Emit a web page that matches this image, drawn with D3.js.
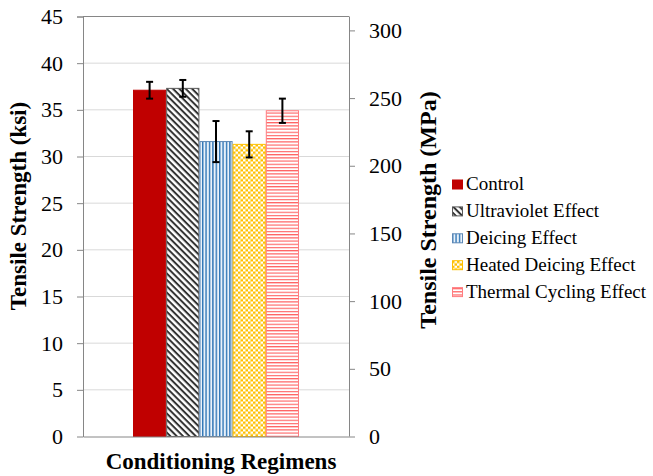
<!DOCTYPE html>
<meta charset="utf-8">
<script src="https://d3js.org/d3.v7.min.js"></script>
<style>
  body { margin: 0; background: #fff; }
</style>
<div id="chart"></div>
<script>
  // data
  var series = ["Control", "Ultraviolet Effect", "Deicing Effect", "Heated Deicing Effect", "Thermal Cycling Effect"];
  var strength = [37.1, 37.3, 31.6, 31.3, 34.9];      // ksi
  var errs = [0.9, 0.9, 2.2, 1.4, 1.3];               // ksi
  var ksiTicks = [0, 5, 10, 15, 20, 25, 30, 35, 40, 45];
  var mpaTicks = [0, 50, 100, 150, 200, 250, 300];
  var KSI_TO_MPA = 6.89476;

  var FONT = "Liberation Serif";

  var margin = {top: 16.5, right: 304, bottom: 39.5, left: 83},
      width = 653 - margin.left - margin.right,
      height = 476 - margin.top - margin.bottom;

  var svg = d3.select("#chart").append("svg")
      .attr("width", 653).attr("height", 476);

  // fill patterns
  var defs = svg.append("defs");
  var p;
  p = defs.append("pattern").attr("id", "pat1").attr("patternUnits", "userSpaceOnUse")
      .attr("width", 4.5).attr("height", 4.5).attr("patternTransform", "rotate(45)");
  p.append("rect").attr("width", 4.5).attr("height", 4.5).attr("fill", "#fff");
  p.append("rect").attr("width", 4.5).attr("height", 2).attr("fill", "#333");

  p = defs.append("pattern").attr("id", "pat2").attr("patternUnits", "userSpaceOnUse")
      .attr("width", 3.4).attr("height", 4);
  p.append("rect").attr("width", 3.4).attr("height", 4).attr("fill", "#eaf2fa");
  p.append("rect").attr("width", 1.4).attr("height", 4).attr("fill", "#2e75b6");

  p = defs.append("pattern").attr("id", "pat3").attr("patternUnits", "userSpaceOnUse")
      .attr("width", 5).attr("height", 5);
  p.append("rect").attr("width", 5).attr("height", 5).attr("fill", "#fff");
  p.append("rect").attr("width", 2.5).attr("height", 2.5).attr("fill", "#ffc000");
  p.append("rect").attr("x", 2.5).attr("y", 2.5).attr("width", 2.5).attr("height", 2.5).attr("fill", "#ffc000");

  p = defs.append("pattern").attr("id", "pat4").attr("patternUnits", "userSpaceOnUse")
      .attr("width", 4).attr("height", 3.2);
  p.append("rect").attr("width", 4).attr("height", 3.2).attr("fill", "#fff");
  p.append("rect").attr("width", 4).attr("height", 1.2).attr("fill", "#ff6666");

  var fills = ["#c00000", "url(#pat1)", "url(#pat2)", "url(#pat3)", "url(#pat4)"];
  var strokes = ["#c00000", "#595959", "#5b87b5", "#ffc000", "#ff7c80"];

  var g = svg.append("g")
      .attr("transform", "translate(" + margin.left + "," + margin.top + ")");

  var y = d3.scaleLinear().domain([0, 45]).range([height, 0]);
  var y2 = d3.scaleLinear().domain([0, 45 * KSI_TO_MPA]).range([height, 0]);
  var x = d3.scaleBand().domain(series).range([50, 216]).padding(0);

  // gridlines
  g.selectAll(".grid").data(ksiTicks.slice(1, -1)).enter().append("line")
      .attr("x1", 0).attr("x2", width)
      .attr("y1", function(d) { return y(d); }).attr("y2", function(d) { return y(d); })
      .attr("stroke", "#d9d9d9").attr("stroke-width", 1);

  // top border
  g.append("line").attr("x1", 0).attr("x2", width).attr("y1", 0).attr("y2", 0)
      .attr("stroke", "#868686");

  // bars
  var data = series.map(function(s, i) { return {name: s, v: strength[i], e: errs[i], i: i}; });
  g.selectAll(".bar").data(data).enter().append("rect")
      .attr("x", function(d) { return x(d.name) + 0.5; })
      .attr("y", function(d) { return y(d.v); })
      .attr("width", x.bandwidth() - 1)
      .attr("height", function(d) { return height - y(d.v); })
      .attr("fill", function(d) { return fills[d.i]; })
      .attr("stroke", function(d) { return strokes[d.i]; })
      .attr("stroke-width", 1);

  // error bars
  var eb = g.selectAll(".err").data(data).enter().append("g")
      .attr("transform", function(d) { return "translate(" + (x(d.name) + x.bandwidth() / 2) + ",0)"; });
  eb.append("line").attr("y1", function(d) { return y(d.v + d.e); })
      .attr("y2", function(d) { return y(d.v - d.e); })
      .attr("stroke", "#000").attr("stroke-width", 2);
  eb.append("line").attr("x1", -3.5).attr("x2", 3.5)
      .attr("y1", function(d) { return y(d.v + d.e); }).attr("y2", function(d) { return y(d.v + d.e); })
      .attr("stroke", "#000").attr("stroke-width", 2);
  eb.append("line").attr("x1", -3.5).attr("x2", 3.5)
      .attr("y1", function(d) { return y(d.v - d.e); }).attr("y2", function(d) { return y(d.v - d.e); })
      .attr("stroke", "#000").attr("stroke-width", 2);

  // left axis
  var ax = g.append("g")
      .call(d3.axisLeft(y).tickValues(ksiTicks).tickSize(6).tickPadding(14).tickFormat(d3.format("d")));
  ax.selectAll("path, line").attr("stroke", "#868686");
  ax.selectAll("text").attr("fill", "#000")
      .style("font-family", FONT).style("font-size", "22px");
  ax.select(".domain").attr("d", "M-6,0.5H0.5V" + (height + 0.5) + "H" + width);

  // right axis
  var ax2 = g.append("g").attr("transform", "translate(" + width + ",0)")
      .call(d3.axisRight(y2).tickValues(mpaTicks).tickSize(6).tickPadding(14).tickFormat(d3.format("d")));
  ax2.selectAll("path, line").attr("stroke", "#868686");
  ax2.select(".domain").attr("d", "M0.5," + height + "V0");
  ax2.selectAll("text").attr("fill", "#000")
      .style("font-family", FONT).style("font-size", "22px");

  // axis titles
  svg.append("text")
      .attr("transform", "translate(26,206) rotate(-90)")
      .attr("text-anchor", "middle")
      .style("font-family", FONT).style("font-size", "23px").style("font-weight", "bold")
      .text("Tensile Strength (ksi)");
  svg.append("text")
      .attr("transform", "translate(436,210) rotate(-90)")
      .attr("text-anchor", "middle")
      .style("font-family", FONT).style("font-size", "24px").style("font-weight", "bold")
      .text("Tensile Strength (MPa)");
  svg.append("text")
      .attr("x", 221).attr("y", 469)
      .attr("text-anchor", "middle")
      .style("font-family", FONT).style("font-size", "23px").style("font-weight", "bold")
      .text("Conditioning Regimens");

  // legend
  var leg = svg.selectAll(".leg").data(data).enter().append("g")
      .attr("transform", function(d) { return "translate(452," + (190 + d.i * 26.9) + ")"; });
  leg.append("rect").attr("x", 0.5).attr("y", -10).attr("width", 10).attr("height", 9)
      .attr("fill", function(d) { return fills[d.i]; })
      .attr("stroke", function(d) { return strokes[d.i]; });
  leg.append("text").attr("x", 14).attr("y", 0)
      .style("font-family", FONT).style("font-size", "19px")
      .text(function(d) { return d.name; });
</script>
